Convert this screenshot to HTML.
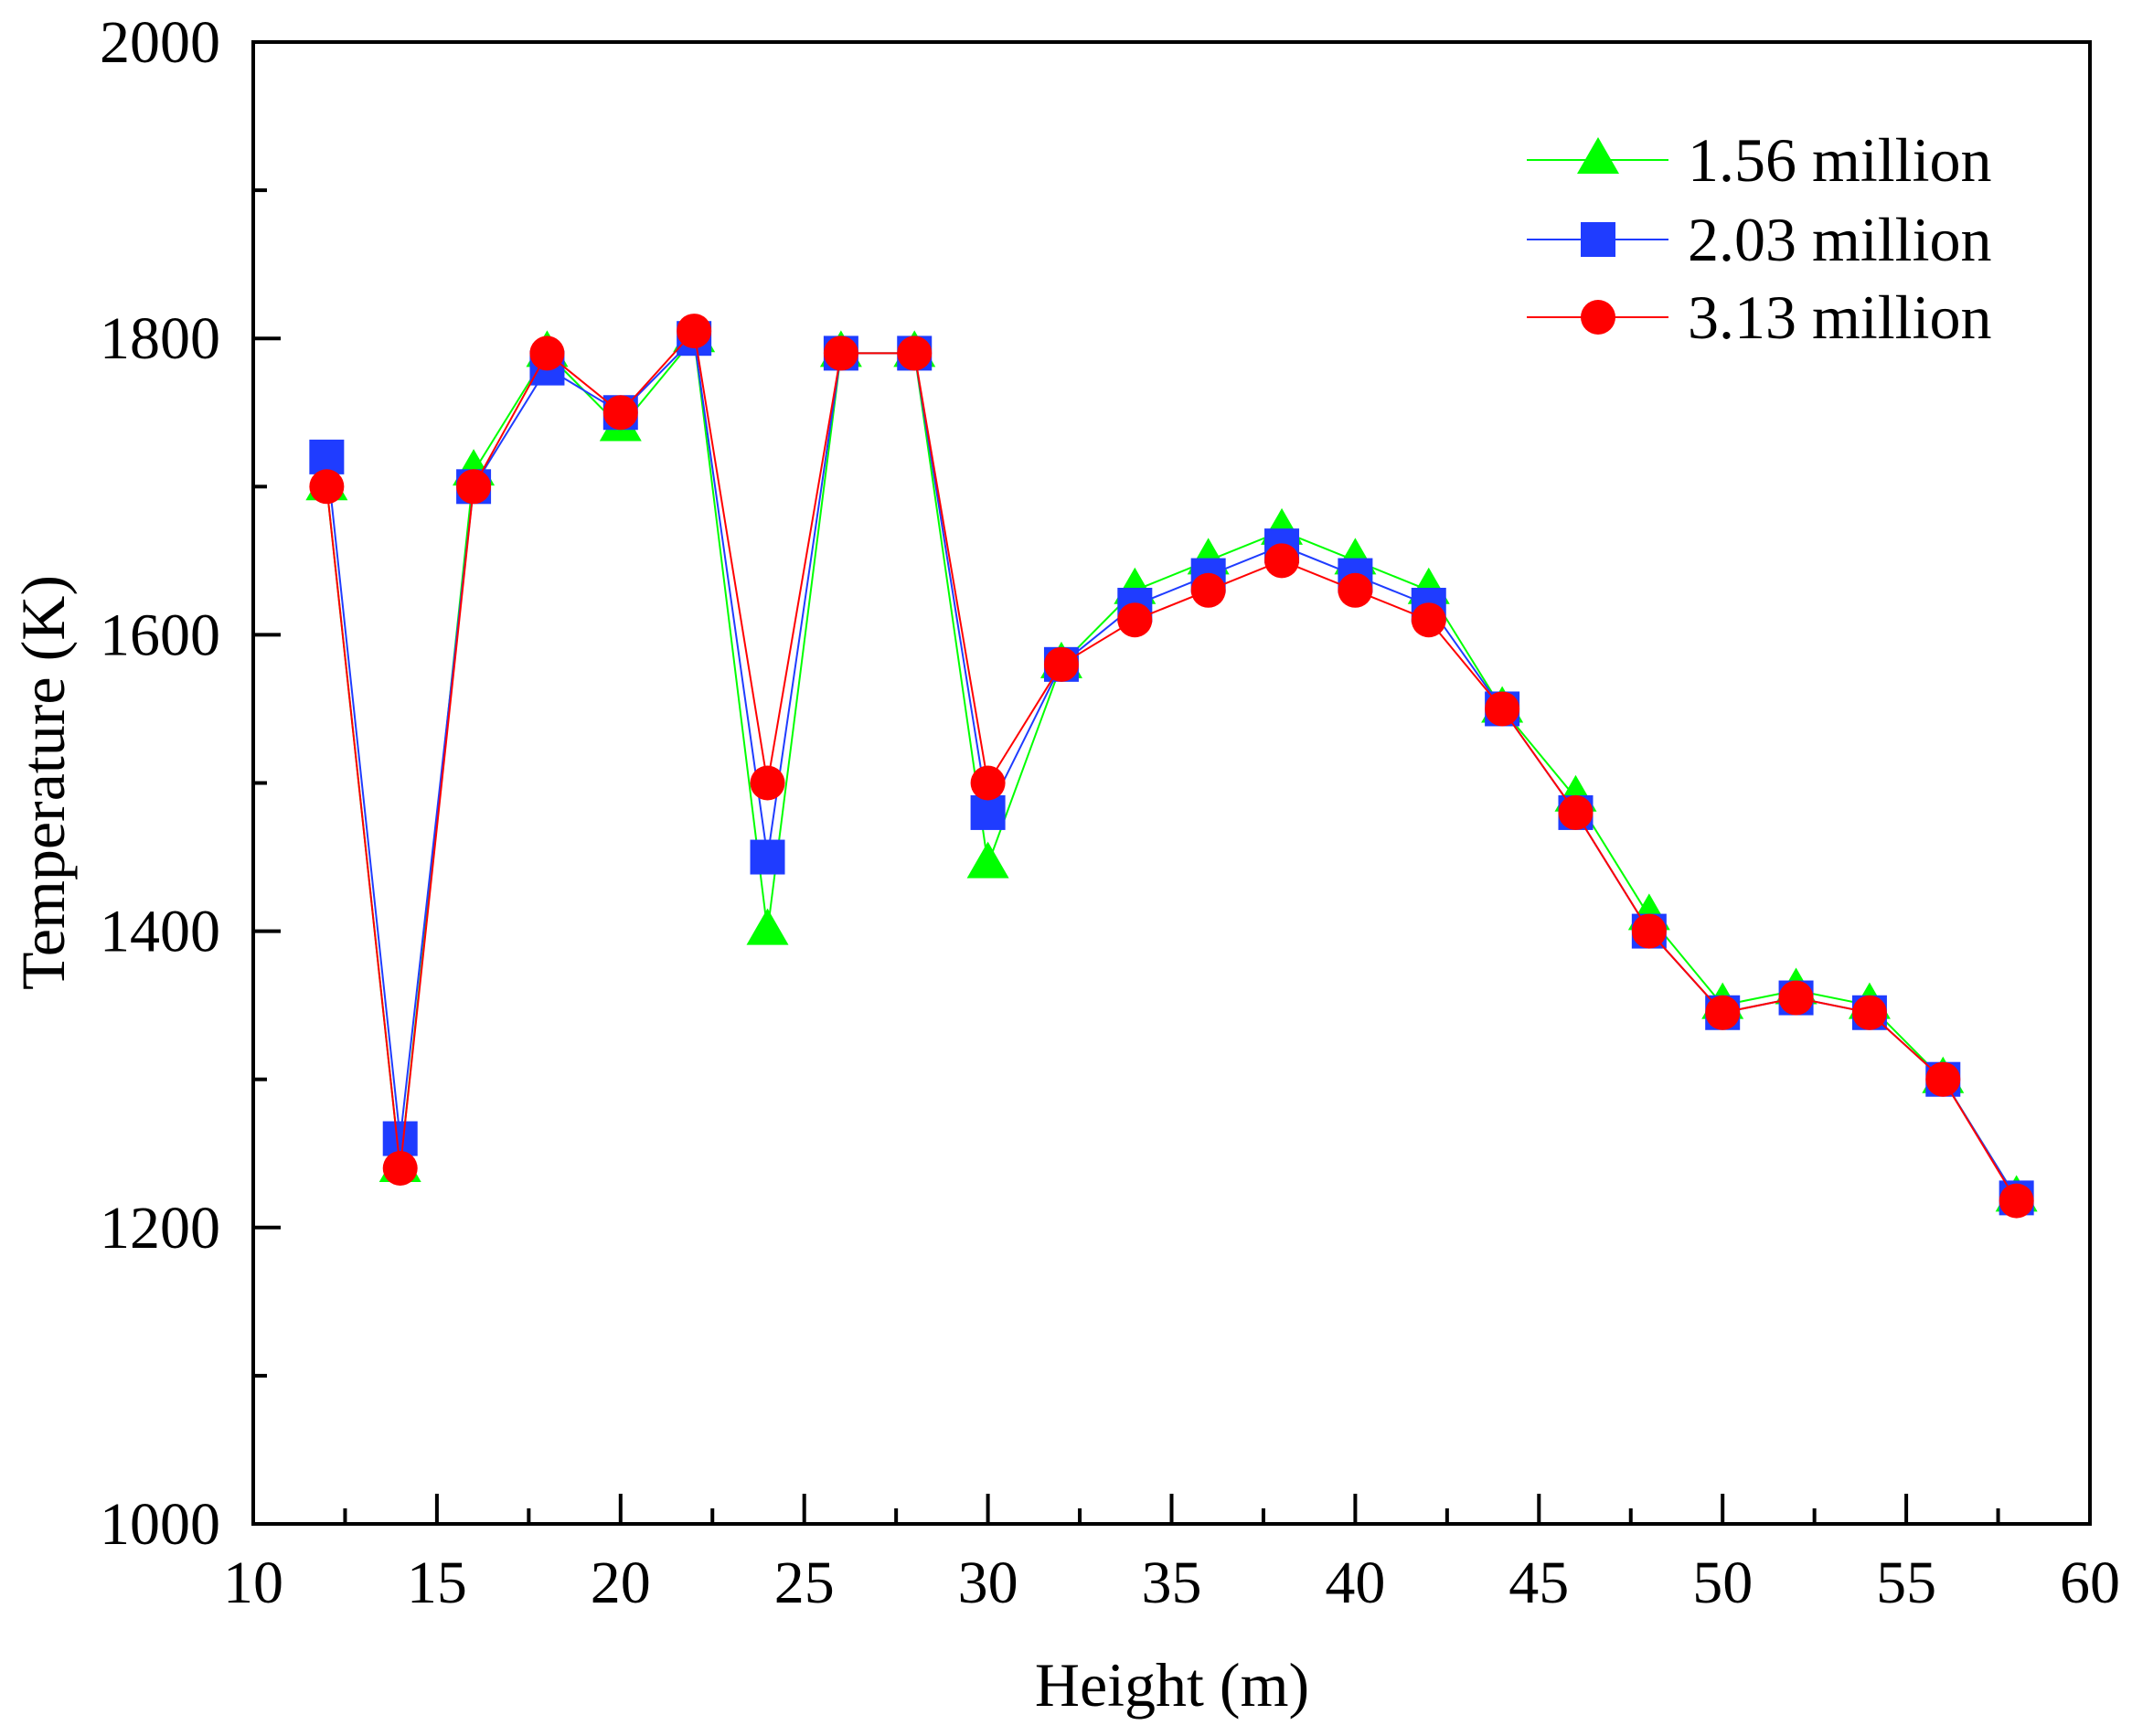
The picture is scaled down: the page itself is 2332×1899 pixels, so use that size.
<!DOCTYPE html>
<html><head><meta charset="utf-8"><style>
body{margin:0;background:#fff}
svg{display:block;font-family:"Liberation Serif",serif}
</style></head><body>
<svg id="chart" width="2332" height="1899" viewBox="0 0 2332 1899" xmlns="http://www.w3.org/2000/svg">
<g id="axes"></g>
<g id="series"></g>
<g id="legend"></g>
<text x="1282" y="1866" font-size="68" text-anchor="middle">Height (m)</text>
<text x="0" y="0" font-size="68" text-anchor="middle" transform="translate(70,856) rotate(-90)">Temperature (K)</text>
</svg>
<script>
const heights=[12,14,16,18,20,22,24,26,28,30,32,34,36,38,40,42,44,46,48,50,52,54,56,58];
const s156=[1700,1240,1710,1790,1740,1800,1400,1790,1790,1445,1580,1630,1650,1670,1650,1630,1550,1490,1410,1350,1360,1350,1300,1220];
const s203=[1720,1260,1700,1780,1750,1800,1450,1790,1790,1480,1580,1620,1640,1660,1640,1620,1550,1480,1400,1345,1355,1345,1300,1220];
const s313=[1700,1240,1700,1790,1750,1805,1500,1790,1790,1500,1580,1610,1630,1650,1630,1610,1550,1480,1400,1345,1355,1345,1300,1218];
const xTicks=[10,15,20,25,30,35,40,45,50,55,60];
const yTicks=[1000,1200,1400,1600,1800,2000];
const seriesNames=["1.56 million","2.03 million","3.13 million"];
const NS="http://www.w3.org/2000/svg";
const L=277,R=2286,T=46,B=1667;
const xs=v=>L+(v-10)/50*(R-L);
const ys=v=>B-(v-1000)/1000*(B-T);
function mk(tag,attrs,parent){const e=document.createElementNS(NS,tag);for(const k in attrs)e.setAttribute(k,attrs[k]);parent.appendChild(e);return e;}
const axes=document.getElementById('axes');
const frame=mk('rect',{x:L,y:T,width:R-L,height:B-T,fill:'none',stroke:'#000','stroke-width':4},axes);


xTicks.forEach((t,i)=>{
  const x=xs(t);
  const tk=mk('line',{x1:x,x2:x,y1:B,y2:B-33,stroke:'#000','stroke-width':4},axes);
  
  
  if(i<xTicks.length-1){const mx=xs(t+2.5);
    const mn=mk('line',{x1:mx,x2:mx,y1:B,y2:B-17,stroke:'#000','stroke-width':4},axes);
    
    }
  const lb=mk('text',{x:x,y:1753,'font-size':66,'text-anchor':'middle'},axes);lb.textContent=t;
  
  
});
yTicks.forEach((t,i)=>{
  const y=ys(t);
  const tk=mk('line',{x1:L,x2:L+30,y1:y,y2:y,stroke:'#000','stroke-width':4},axes);
  
  
  if(i<yTicks.length-1){const my=ys(t+100);
    const mn=mk('line',{x1:L,x2:L+15,y1:my,y2:my,stroke:'#000','stroke-width':4},axes);
    
    }
  const lb=mk('text',{x:241,y:y+22,'font-size':66,'text-anchor':'end'},axes);lb.textContent=t;
  
  
});
const sg=document.getElementById('series');
function marker(shape,x,y,color,parent){
  let e;
  if(shape==='tri') e=mk('polygon',{points:`${x},${y-25} ${x-23},${y+15} ${x+23},${y+15}`,fill:color},parent);
  else if(shape==='sq') e=mk('rect',{x:x-19,y:y-19,width:38,height:38,fill:color},parent);
  else e=mk('circle',{cx:x,cy:y,r:19,fill:color},parent);
  return e;
}
const defs=[[s156,'#00ff00','tri','series-1-56-million'],[s203,'#1f3cff','sq','series-2-03-million'],[s313,'#ff0000','circ','series-3-13-million']];
defs.forEach(([vals,col,shape,name])=>{
  const g=mk('g',{},sg);
  
  
  const pl=mk('polyline',{points:vals.map((v,i)=>xs(heights[i])+','+ys(v)).join(' '),fill:'none',stroke:col,'stroke-width':2},g);
  
  
  vals.forEach((v,i)=>{const m=marker(shape,xs(heights[i]),ys(v),col,g);
    
    });
});
const lg=document.getElementById('legend');
const ly=[175,262,347];
defs.forEach(([vals,col,shape],i)=>{
  const g=mk('g',{},lg);
  
  
  mk('line',{x1:1670,x2:1825,y1:ly[i],y2:ly[i],stroke:col,'stroke-width':2},g);
  marker(shape,1748,ly[i],col,g);
  const t=mk('text',{x:1846,y:ly[i]+23,'font-size':68},g);t.textContent=seriesNames[i];
});
</script>
</body></html>
